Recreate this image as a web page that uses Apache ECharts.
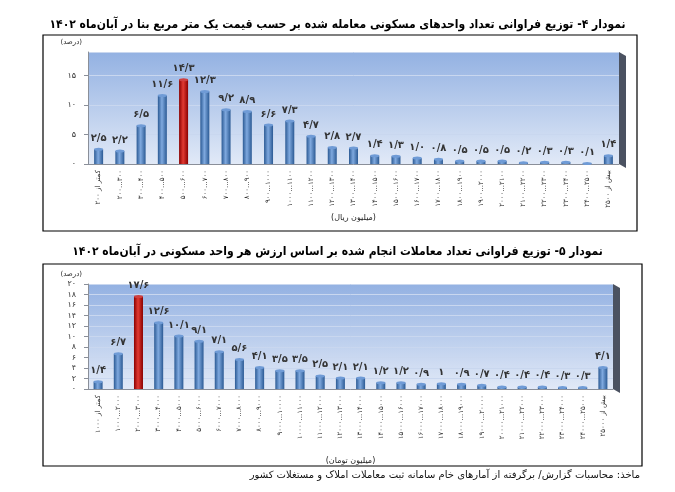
<!DOCTYPE html>
<html style="height: 100%">
    <head>
        <meta charset="utf-8">
        <script type="text/javascript" src="https://cdn.jsdelivr.net/npm/echarts@6/dist/echarts.min.js"></script>
    </head>
    <body style="height: 100%; margin: 0; background: #fff">
        <div id="main" style="width: 675px; height: 492px"></div>
        <script type="text/javascript">
            // chart 4: price per square metre (million rial)
            var cats1 = ['کمتر از ۲۰۰', '۲۰۰...۳۰۰', '۳۰۰...۴۰۰', '۴۰۰...۵۰۰', '۵۰۰...۶۰۰', '۶۰۰...۷۰۰', '۷۰۰...۸۰۰',
                '۸۰۰...۹۰۰', '۹۰۰...۱۰۰۰', '۱۰۰۰...۱۱۰۰', '۱۱۰۰...۱۲۰۰', '۱۲۰۰...۱۳۰۰', '۱۳۰۰...۱۴۰۰', '۱۴۰۰...۱۵۰۰',
                '۱۵۰۰...۱۶۰۰', '۱۶۰۰...۱۷۰۰', '۱۷۰۰...۱۸۰۰', '۱۸۰۰...۱۹۰۰', '۱۹۰۰...۲۰۰۰', '۲۰۰۰...۲۱۰۰', '۲۱۰۰...۲۲۰۰',
                '۲۲۰۰...۲۳۰۰', '۲۳۰۰...۲۴۰۰', '۲۴۰۰...۲۵۰۰', 'بیش از ۲۵۰۰'];
            var vals1 = [2.5, 2.2, 6.5, 11.6, 14.3, 12.3, 9.2, 8.9, 6.6, 7.3, 4.7, 2.8, 2.7, 1.4, 1.3, 1.0, 0.8, 0.5, 0.5, 0.5, 0.2, 0.3, 0.3, 0.1, 1.4];
            var peak1 = 4;

            // chart 5: value per unit (million toman)
            var cats2 = ['کمتر از ۱۰۰۰', '۱۰۰۰...۲۰۰۰', '۲۰۰۰...۳۰۰۰', '۳۰۰۰...۴۰۰۰', '۴۰۰۰...۵۰۰۰', '۵۰۰۰...۶۰۰۰', '۶۰۰۰...۷۰۰۰',
                '۷۰۰۰...۸۰۰۰', '۸۰۰۰...۹۰۰۰', '۹۰۰۰...۱۰۰۰۰', '۱۰۰۰۰...۱۱۰۰۰', '۱۱۰۰۰...۱۲۰۰۰', '۱۲۰۰۰...۱۳۰۰۰', '۱۳۰۰۰...۱۴۰۰۰',
                '۱۴۰۰۰...۱۵۰۰۰', '۱۵۰۰۰...۱۶۰۰۰', '۱۶۰۰۰...۱۷۰۰۰', '۱۷۰۰۰...۱۸۰۰۰', '۱۸۰۰۰...۱۹۰۰۰', '۱۹۰۰۰...۲۰۰۰۰',
                '۲۰۰۰۰...۲۱۰۰۰', '۲۱۰۰۰...۲۲۰۰۰', '۲۲۰۰۰...۲۳۰۰۰', '۲۳۰۰۰...۲۴۰۰۰', '۲۴۰۰۰...۲۵۰۰۰', 'بیش از ۲۵۰۰۰'];
            var vals2 = [1.4, 6.7, 17.6, 12.6, 10.1, 9.1, 7.1, 5.6, 4.1, 3.5, 3.5, 2.5, 2.1, 2.1, 1.2, 1.2, 0.9, 1, 0.9, 0.7, 0.4, 0.4, 0.4, 0.3, 0.3, 4.1];
            var peak2 = 2;

            var title1 = 'نمودار ۴- توزیع فراوانی تعداد واحدهای مسکونی معامله شده بر حسب قیمت یک متر مربع بنا در آبان‌ماه ۱۴۰۲';
            var title2 = 'نمودار ۵- توزیع فراوانی تعداد معاملات انجام شده بر اساس ارزش هر واحد مسکونی در آبان‌ماه ۱۴۰۲';
            var source = 'ماخذ: محاسبات گزارش/ برگرفته از آمارهای خام سامانه ثبت معاملات املاک و مستغلات کشور';

            var FONT = 'DejaVu Sans';
            var TFONT = '"DejaVu Sans Condensed", "DejaVu Sans"';

            function fa(s) {
                return String(s).replace(/[0-9]/g, function (d) { return '۰۱۲۳۴۵۶۷۸۹'[d]; }).replace('.', '/');
            }

            function grad(c1, c2) {
                return new echarts.graphic.LinearGradient(0, 0, 1, 0, [
                    {offset: 0, color: c1}, {offset: 0.45, color: c2}, {offset: 1, color: c1}
                ]);
            }
            var blue = grad('#2b5a94', '#7fa9df');
            var red = grad('#8a0000', '#e23a32');
            var plotBg = new echarts.graphic.LinearGradient(0, 0, 0, 1, [
                {offset: 0, color: '#93b1e2'}, {offset: 1, color: '#e1e9f7'}
            ]);

            function barData(vals, peak) {
                return vals.map(function (v, i) {
                    return {value: v, itemStyle: {color: i === peak ? red : blue}};
                });
            }
            function capData(vals, peak) {
                return vals.map(function (v, i) {
                    return {value: v, itemStyle: {color: i === peak ? '#d04040' : '#6f9bd6'}};
                });
            }

            function xAxis(idx, cats, name, gap) {
                return {
                    type: 'category', gridIndex: idx, data: cats,
                    name: name, nameLocation: 'middle', nameGap: gap,
                    nameTextStyle: {fontFamily: FONT, fontSize: 8, color: '#222'},
                    axisLine: {lineStyle: {color: '#8a8f99'}},
                    axisTick: {length: 3, lineStyle: {color: '#8a8f99'}},
                    axisLabel: {interval: 0, rotate: 90, fontFamily: FONT, fontSize: 7, color: '#333', margin: 6}
                };
            }
            function yAxis(idx, max, interval, hideMax) {
                return {
                    type: 'value', gridIndex: idx, min: 0, max: max, interval: interval,
                    name: '(درصد)', nameLocation: 'end', nameGap: 6,
                    nameTextStyle: {fontFamily: FONT, fontSize: 7, color: '#222', align: 'right', padding: [0, 6, 0, 0]},
                    axisLine: {show: true, lineStyle: {color: '#8a8f99'}},
                    axisTick: {show: true, length: 4, lineStyle: {color: '#8a8f99'}},
                    splitLine: {lineStyle: {color: '#c9d7ef'}},
                    axisLabel: {fontFamily: FONT, fontSize: 8, color: '#333', margin: 12, showMaxLabel: !hideMax,
                        formatter: function (v) { return fa(v); }}
                };
            }

            var labelStyle = {show: true, position: 'top', distance: 6, fontFamily: FONT, fontSize: 10,
                fontWeight: 'bold', color: '#333'};

            var myChart = echarts.init(document.getElementById('main'));
            myChart.setOption({
                backgroundColor: '#fff',
                animation: false,
                title: [
                    {text: title1, left: 'center', top: 14, textStyle: {fontFamily: TFONT, fontSize: 12, fontWeight: 'bold', color: '#000'}},
                    {text: title2, left: 'center', top: 241, textStyle: {fontFamily: TFONT, fontSize: 12, fontWeight: 'bold', color: '#000'}}
                ],
                grid: [
                    {left: 88, right: 56, top: 52, height: 112, show: true, backgroundColor: plotBg, borderWidth: 0},
                    {left: 88, right: 62, top: 284, height: 105, show: true, backgroundColor: plotBg, borderWidth: 0}
                ],
                xAxis: [xAxis(0, cats1, '(میلیون ریال)', 50), xAxis(1, cats2, '(میلیون تومان)', 68)],
                yAxis: [yAxis(0, 19, 5, true), yAxis(1, 20, 2, false)],
                series: [
                    {type: 'bar', xAxisIndex: 0, yAxisIndex: 0, data: barData(vals1, peak1), barWidth: 9,
                        label: Object.assign({}, labelStyle, {formatter: function (p) { return fa(p.value.toFixed(1)); }})},
                    {type: 'pictorialBar', xAxisIndex: 0, yAxisIndex: 0, data: capData(vals1, peak1), symbol: 'circle',
                        symbolSize: [9, 3], symbolPosition: 'end', symbolOffset: [0, '-50%'], z: 3, silent: true},
                    {type: 'bar', xAxisIndex: 1, yAxisIndex: 1, data: barData(vals2, peak2), barWidth: 9,
                        label: Object.assign({}, labelStyle, {formatter: function (p) { return fa(p.value); }})},
                    {type: 'pictorialBar', xAxisIndex: 1, yAxisIndex: 1, data: capData(vals2, peak2), symbol: 'circle',
                        symbolSize: [9, 3], symbolPosition: 'end', symbolOffset: [0, '-50%'], z: 3, silent: true}
                ],
                graphic: [
                    {type: 'rect', shape: {x: 43, y: 35, width: 594, height: 196}, style: {fill: 'none', stroke: '#000', lineWidth: 1.2}},
                    {type: 'rect', shape: {x: 43, y: 264, width: 599, height: 202}, style: {fill: 'none', stroke: '#000', lineWidth: 1.2}},
                    // 3d side walls
                    {type: 'polygon', shape: {points: [[619, 52], [626, 56], [626, 168], [619, 164]]}, style: {fill: '#4b5261'}},
                    {type: 'polygon', shape: {points: [[613, 284], [620, 288], [620, 393], [613, 389]]}, style: {fill: '#4b5261'}},
                    {type: 'text', x: 640, y: 470, style: {text: source, fontFamily: FONT, fontSize: 10, fill: '#111', textAlign: 'right'}}
                ]
            });
        </script>
    </body>
</html>
